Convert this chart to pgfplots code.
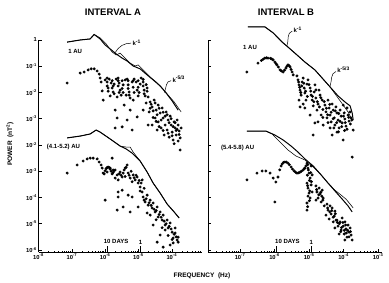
\documentclass[border=0pt]{standalone}
\usepackage{fontspec}
\setmainfont{Liberation Sans}
\usepackage{pgfplots}
\usepackage{pgfplotstable}
\pgfplotsset{compat=1.18}

% ---- Interval A, 1 AU: two spectra (lines) and points ----
\pgfplotstableread{
L M
-7.14 -0.08
-6.75 0
-6.45 0.04
-6.33 0.21
-6.15 0.04
-6.00 -0.19
-5.85 -0.34
-5.67 -0.53
-5.49 -0.69
-5.34 -0.80
-5.16 -0.99
-4.95 -1.10
-4.74 -1.33
-4.56 -1.52
-4.35 -1.75
-4.17 -2.02
-3.99 -2.32
-3.81 -2.67
}\lineAa
\pgfplotstableread{
L M
-7.14 -0.08
-6.75 0
-6.45 0.04
-6.33 0.21
-6.15 0.08
-5.97 -0.15
-5.79 -0.46
-5.67 -0.57
-5.55 -0.50
-5.43 -0.65
-5.25 -0.88
-5.10 -0.99
-5.01 -0.95
-4.86 -1.14
-4.65 -1.41
-4.47 -1.60
-4.29 -1.83
-4.11 -2.10
-3.93 -2.36
-3.72 -2.74
}\lineAb
\pgfplotstableread{
L M
-7.14 -1.64
-6.75 -1.26
-6.63 -1.22
-6.51 -1.14
-6.42 -1.10
-6.33 -1.10
-6.24 -1.18
-6.18 -1.30
-6.15 -1.45
-6.12 -1.60
-6.09 -1.94
-6.06 -2.29
-6.00 -1.52
-5.94 -1.45
-5.88 -1.49
-5.82 -1.64
-5.79 -1.83
-5.76 -1.98
-5.73 -1.68
-5.67 -1.49
-5.61 -1.45
-5.58 -1.64
-5.55 -1.91
-5.52 -2.10
-5.46 -1.71
-5.40 -1.52
-5.34 -1.49
-5.31 -1.71
-5.28 -1.98
-5.25 -2.21
-5.19 -1.60
-5.13 -1.49
-5.07 -1.60
-5.04 -1.91
-5.01 -2.13
-4.95 -1.68
-4.92 -1.45
-4.86 -1.60
-4.83 -1.91
-4.80 -2.13
-4.74 -1.83
-5.85 -2.13
-5.64 -2.17
-5.37 -2.10
-5.16 -2.29
-5.70 -2.67
-5.64 -2.97
-5.70 -3.35
-5.49 -3.31
-5.34 -3.05
-5.25 -2.67
-5.19 -3.43
-5.04 -2.93
-5.43 -2.48
-5.91 -1.83
-4.71 -2.17
-4.65 -2.36
-4.59 -2.55
-4.68 -2.74
-4.53 -2.29
-4.47 -2.67
-4.50 -2.97
-4.41 -2.48
-4.35 -2.78
-4.41 -3.12
-4.29 -2.59
-4.26 -2.97
-4.20 -3.24
-4.32 -3.35
-4.17 -2.74
-4.11 -3.05
-4.14 -3.43
-4.05 -2.90
-4.02 -3.24
-3.99 -3.51
-3.93 -3.12
-3.90 -3.35
-3.87 -3.62
-3.81 -3.24
-3.78 -3.47
-3.75 -3.73
-3.72 -3.35
-4.59 -3.24
-4.71 -3.24
-4.44 -3.43
-4.23 -3.62
-4.08 -3.70
-3.96 -3.81
-3.84 -3.05
-3.75 -4.19
-4.77 -2.40
-4.86 -2.67
-5.94 -1.60
-5.94 -1.75
-5.91 -1.95
-5.79 -1.55
-5.76 -1.75
-5.73 -2.05
-5.61 -1.55
-5.61 -1.75
-5.58 -2.00
-5.49 -1.55
-5.49 -1.85
-5.46 -2.00
-5.31 -1.55
-5.31 -1.85
-5.28 -2.10
-5.16 -1.55
-5.16 -1.80
-5.13 -2.00
-5.01 -1.55
-5.01 -1.80
-4.98 -2.00
-4.86 -1.50
-4.86 -1.75
-4.83 -2.05
-4.77 -1.70
-4.74 -1.95
-4.62 -2.45
-4.56 -2.70
-4.50 -2.40
-4.44 -2.85
-4.38 -2.60
-4.32 -3.05
-4.26 -2.75
-4.20 -2.90
-4.14 -2.85
-4.08 -3.15
-4.02 -3.00
-3.96 -3.30
-3.90 -3.15
-3.84 -3.40
-3.78 -3.60
-4.38 -3.30
-4.26 -3.45
-4.11 -3.55
-3.99 -3.65
-3.87 -3.45
-4.47 -3.10
-4.56 -2.95
-4.65 -2.60
-3.81 -3.85
-3.93 -3.95
}\ptsA
% ---- Interval A, 4.1-5.2 AU (plotted two decades lower) ----
\pgfplotstableread{
L M
-7.14 -3.73
-6.75 -3.66
-6.45 -3.58
-6.27 -3.43
-6.15 -3.51
-5.85 -3.77
-5.55 -4.04
-5.37 -4.15
-5.19 -4.31
-4.95 -4.61
-4.74 -5.03
-4.56 -5.45
-4.35 -5.83
-4.14 -6.25
-3.93 -6.55
-3.78 -6.78
}\lineCa
\pgfplotstableread{
L M
-7.14 -3.73
-6.75 -3.66
-6.45 -3.58
-6.27 -3.43
-6.15 -3.51
-5.85 -3.77
-5.55 -4.04
-5.37 -4.08
-5.25 -4.08
-5.16 -4.27
-4.95 -4.61
-4.74 -5.03
-4.56 -5.45
-4.35 -5.83
-4.14 -6.25
-3.93 -6.55
-3.78 -6.78
}\lineCb
\pgfplotstableread{
L M
-7.14 -5.07
-6.84 -4.76
-6.66 -4.61
-6.54 -4.53
-6.45 -4.50
-6.36 -4.50
-6.24 -4.53
-6.18 -4.65
-6.12 -4.76
-6.09 -4.88
-6.06 -5.07
-6.00 -6.10
-5.79 -4.50
-5.94 -5.03
-5.85 -4.88
-5.76 -4.95
-5.64 -5.14
-5.61 -5.33
-5.55 -5.03
-5.46 -5.07
-5.40 -4.88
-5.34 -4.76
-5.31 -5.07
-5.25 -5.26
-5.16 -5.14
-5.04 -5.22
-5.01 -5.45
-4.95 -5.60
-4.89 -5.33
-5.70 -5.26
-5.49 -5.22
-5.10 -5.33
-5.61 -5.79
-5.49 -5.72
-5.61 -5.98
-5.31 -5.91
-5.19 -5.98
-5.46 -6.36
-5.25 -6.55
-5.01 -6.36
-5.64 -6.48
-4.89 -5.79
-4.86 -5.98
-4.80 -6.17
-4.74 -5.91
-4.71 -6.29
-4.65 -6.10
-4.59 -6.40
-4.56 -6.21
-4.50 -6.55
-4.44 -6.36
-4.41 -6.74
-4.35 -6.55
-4.29 -6.86
-4.26 -6.67
-4.20 -7.05
-4.14 -6.86
-4.11 -7.16
-4.05 -6.97
-3.99 -7.32
-3.96 -7.54
-3.90 -7.35
-3.84 -7.62
-3.81 -7.51
-4.35 -7.43
-4.44 -7.70
-4.65 -6.67
-4.74 -6.59
-4.56 -7.05
-4.26 -7.89
-3.96 -7.73
-4.05 -7.81
-4.20 -7.24
-3.90 -7.16
-6.03 -5.10
-6.00 -4.98
-5.97 -4.90
-5.94 -4.86
-5.91 -4.84
-5.88 -4.86
-5.85 -4.92
-5.82 -5.00
-5.79 -5.10
-5.76 -5.05
-5.73 -4.98
-5.70 -4.95
-5.58 -5.10
-5.52 -5.15
-5.43 -4.95
-5.37 -4.85
-5.28 -5.15
-5.22 -5.00
-5.13 -5.25
-5.07 -5.15
-4.98 -5.35
-4.92 -5.45
-5.40 -5.20
-5.19 -5.40
-4.95 -5.75
-4.83 -5.65
-4.83 -6.10
-4.77 -6.05
-4.68 -6.20
-4.62 -6.30
-4.53 -6.45
-4.47 -6.50
-4.38 -6.65
-4.32 -6.75
-4.23 -6.90
-4.17 -7.00
-4.08 -7.10
-4.02 -7.20
-3.93 -7.40
-3.87 -7.50
-3.81 -7.70
-4.29 -7.15
-4.11 -7.45
-4.47 -6.85
-3.99 -7.60
}\ptsC
% ---- Interval B, 1 AU ----
\pgfplotstableread{
L M
-6.77 0.50
-6.28 0.50
-6.04 0.27
-5.78 -0.08
-5.61 -0.27
-5.35 -0.57
-5.12 -0.84
-4.83 -1.14
-4.62 -1.45
-4.39 -1.79
-4.16 -2.13
-3.96 -2.36
-3.81 -2.51
-3.75 -2.78
-3.72 -3.05
}\lineBa
\pgfplotstableread{
L M
-6.77 0.50
-6.28 0.50
-6.04 0.27
-5.78 -0.08
-5.61 -0.27
-5.35 -0.57
-5.12 -0.84
-4.83 -1.14
-4.62 -1.45
-4.39 -1.79
-4.16 -2.21
-4.01 -2.48
-3.87 -2.74
-3.75 -3.05
}\lineBb
\pgfplotstableread{
L M
-6.80 -1.22
-6.48 -0.88
-6.28 -0.69
-6.19 -0.69
-6.04 -0.76
-5.93 -0.95
-5.84 -1.14
-5.75 -1.22
-5.67 -1.07
-5.61 -0.95
-5.55 -1.03
-5.49 -1.22
-5.46 -1.33
-5.35 -1.37
-5.32 -1.52
-5.29 -1.71
-5.26 -1.91
-5.23 -2.10
-5.20 -1.60
-5.17 -1.45
-5.14 -1.83
-5.12 -2.02
-5.09 -2.29
-5.06 -1.68
-5.03 -1.52
-5.29 -2.29
-5.17 -2.44
-4.97 -1.83
-4.94 -2.10
-4.91 -2.29
-4.88 -2.51
-4.85 -1.98
-4.83 -1.71
-4.80 -2.21
-4.77 -2.67
-4.74 -2.44
-4.68 -2.10
-4.65 -2.86
-4.62 -2.29
-4.71 -1.91
-4.54 -2.48
-4.51 -2.74
-4.48 -2.97
-4.45 -2.29
-4.42 -2.59
-4.39 -2.86
-4.36 -3.12
-4.33 -2.44
-4.30 -2.67
-4.27 -2.97
-4.25 -3.24
-4.22 -2.55
-4.19 -2.78
-4.16 -3.05
-4.13 -3.35
-4.10 -2.67
-4.07 -2.90
-4.04 -3.16
-4.01 -2.48
-3.98 -2.78
-3.96 -3.01
-3.93 -3.28
-3.90 -2.59
-3.87 -2.86
-3.84 -3.09
-3.81 -2.74
-3.78 -2.97
-4.59 -3.24
-4.74 -3.12
-4.88 -3.62
-4.33 -3.62
-4.01 -3.81
-5.26 -2.55
-5.12 -2.59
-4.97 -2.86
-4.83 -3.16
-4.39 -3.35
-4.19 -3.51
-3.72 -3.43
-3.75 -4.46
-6.38 -0.78
-6.33 -0.73
-6.23 -0.68
-6.12 -0.70
-6.08 -0.72
-5.99 -0.84
-5.96 -0.90
-5.89 -1.03
-5.80 -1.18
-5.71 -1.15
-5.64 -1.00
-5.58 -0.98
-5.52 -1.12
-5.30 -1.60
-5.27 -1.80
-5.24 -2.00
-5.21 -1.75
-5.15 -1.65
-5.10 -1.95
-5.05 -2.15
-5.00 -1.70
-4.95 -1.95
-4.90 -2.15
-4.86 -2.35
-4.80 -1.90
-4.76 -2.35
-4.70 -2.55
-4.66 -2.20
-4.60 -2.65
-4.56 -2.35
-4.50 -2.60
-4.46 -2.85
-4.40 -2.45
-4.36 -2.75
-4.30 -3.00
-4.24 -2.70
-4.20 -3.15
-4.14 -2.80
-4.10 -3.10
-4.05 -3.30
-4.00 -2.90
-3.95 -3.15
-3.90 -3.40
-3.85 -2.95
-3.80 -3.20
-3.76 -3.05
-4.45 -3.15
-4.28 -3.35
-4.15 -3.50
-3.97 -3.45
-4.60 -2.95
}\ptsB
% ---- Interval B, 5.4-5.8 AU (plotted two decades lower) ----
\pgfplotstableread{
L M
-6.80 -3.47
-6.25 -3.47
-5.99 -3.62
-5.75 -3.81
-5.52 -4.04
-5.32 -4.27
-5.12 -4.53
-4.88 -4.80
-4.65 -5.14
-4.45 -5.45
-4.25 -5.75
-4.04 -6.06
-3.87 -6.32
-3.75 -6.55
}\lineDa
\pgfplotstableread{
L M
-6.80 -3.47
-6.25 -3.47
-6.07 -3.58
-5.84 -3.89
-5.61 -4.19
-5.38 -4.42
-5.12 -4.57
-4.88 -4.84
-4.65 -5.14
-4.45 -5.45
-4.25 -5.72
-4.07 -5.91
-3.93 -6.06
-3.81 -6.25
-3.72 -6.40
}\lineDb
\pgfplotstableread{
L M
-6.80 -5.33
-6.51 -5.07
-6.36 -4.99
-6.25 -4.99
-6.13 -5.07
-6.04 -5.26
-5.96 -5.41
-5.90 -5.22
-5.99 -6.17
-5.78 -4.72
-5.70 -4.65
-5.61 -4.69
-5.52 -4.84
-5.43 -4.99
-5.35 -5.07
-5.26 -5.03
-5.17 -4.95
-5.12 -4.88
-5.06 -4.69
-5.03 -4.88
-5.00 -5.07
-4.97 -5.26
-5.06 -5.45
-5.03 -5.64
-5.00 -5.83
-4.97 -6.02
-5.06 -6.21
-5.06 -6.48
-4.94 -4.80
-4.94 -5.52
-4.91 -5.14
-4.91 -5.79
-4.80 -5.56
-4.77 -5.79
-4.74 -6.02
-4.71 -5.64
-4.68 -5.87
-4.65 -6.17
-4.62 -5.72
-4.59 -6.02
-4.56 -6.32
-4.80 -6.10
-4.48 -6.25
-4.45 -6.48
-4.39 -6.32
-4.36 -6.63
-4.33 -6.40
-4.27 -6.71
-4.25 -6.52
-4.22 -6.86
-4.51 -6.67
-4.42 -6.82
-4.19 -6.86
-4.16 -7.09
-4.10 -6.93
-4.07 -7.24
-4.04 -6.78
-4.01 -7.09
-3.98 -7.39
-3.96 -6.93
-3.93 -7.20
-3.90 -7.51
-3.87 -7.05
-3.84 -7.32
-3.81 -7.16
-3.78 -7.43
-4.13 -7.39
-4.25 -7.16
-3.75 -7.62
-3.96 -7.62
-4.30 -6.93
-5.85 -4.95
-5.81 -4.80
-5.74 -4.66
-5.66 -4.65
-5.57 -4.75
-5.48 -4.92
-5.39 -5.04
-5.30 -5.06
-5.22 -5.00
-5.14 -4.90
-5.09 -4.80
-5.04 -4.75
-5.02 -4.95
-5.05 -5.15
-4.99 -5.35
-5.04 -5.55
-4.98 -5.75
-5.03 -5.95
-4.99 -6.12
-5.04 -6.35
-4.95 -5.05
-4.93 -5.40
-4.78 -5.70
-4.72 -5.90
-4.66 -5.80
-4.60 -6.10
-4.63 -5.95
-4.46 -6.40
-4.40 -6.55
-4.34 -6.50
-4.30 -6.75
-4.24 -6.62
-4.18 -6.95
-4.12 -7.00
-4.06 -7.15
-4.02 -6.95
-3.98 -7.25
-3.92 -7.35
-3.88 -7.25
-3.84 -7.50
-3.80 -7.30
-3.94 -7.05
-4.08 -7.30
}\ptsD

\pgfplotsset{
  panel/.style={
    scale only axis,
    height=212.1pt,
    ymin=-8.08, ymax=0,
    axis x line=bottom, axis y line=left,
    axis line style={-, line width=1pt},
    tick align=inside,
    major tick length=3pt, minor tick length=1.5pt,
    tick style={black, line width=0.6pt},
    minor tick style={line width=0.4pt},
    ytick={0,-1,-2,-3,-4,-5,-6,-7,-8},
    ticklabel style={font=\bfseries\fontsize{5.8}{6.5}\selectfont, inner sep=1.5pt},
    clip=false,
  },
  spec/.style={black, line width=1pt, no marks},
  spect/.style={black, line width=0.55pt, no marks},
  dots/.style={only marks, mark=*, mark size=1.25pt, black},
}
\tikzset{lab/.style={font=\bfseries\fontsize{6}{7}\selectfont, inner sep=0.5pt}}

\begin{document}
\begin{tikzpicture}
\useasboundingbox (0,0) rectangle (389pt,282pt);

\begin{axis}[panel,
  at={(38.5pt,29.9pt)}, anchor=south west,
  width=163.3pt, xmin=-8, xmax=-3.1,
  xtick={-8,-7,-6,-5,-4},
  xticklabels={{10\textsuperscript{-8}},{10\textsuperscript{-7}},{10\textsuperscript{-6}},{10\textsuperscript{-5}},{10\textsuperscript{-4}}},
  minor xtick={-7.699,-7.523,-7.398,-7.301,-7.222,-7.155,-7.097,-7.046,
               -6.699,-6.523,-6.398,-6.301,-6.222,-6.155,-6.097,-6.046,
               -5.699,-5.523,-5.398,-5.301,-5.222,-5.155,-5.097,-5.046,
               -4.699,-4.523,-4.398,-4.301,-4.222,-4.155,-4.097,-4.046,
               -3.699,-3.523,-3.398,-3.301,-3.222,-3.155},
  yticklabels={1,{10\textsuperscript{-1}},{10\textsuperscript{-2}},{10\textsuperscript{-3}},{10\textsuperscript{-2}},{10\textsuperscript{-3}},{10\textsuperscript{-4}},{10\textsuperscript{-5}},{10\textsuperscript{-6}}},
]
\addplot[spec] table[x=L,y=M] {\lineAa};
\addplot[spect] table[x=L,y=M] {\lineAb};
\addplot[dots] table[x=L,y=M] {\ptsA};
\addplot[spec] table[x=L,y=M] {\lineCa};
\addplot[spect] table[x=L,y=M] {\lineCb};
\addplot[dots] table[x=L,y=M] {\ptsC};
\node[lab] at (axis cs:-6.9,-0.42) {1 AU};
\node[lab] at (axis cs:-7.25,-4.08) {(4.1-5.2) AU};
\node[lab, anchor=west] at (axis cs:-5.2,-0.1) {k\textsuperscript{-1}};
\draw[line width=0.5pt] (axis cs:-5.22,-0.12) to[out=180,in=60] (axis cs:-5.70,-0.48);
\node[lab, anchor=west] at (axis cs:-4.0,-1.5) {k\textsuperscript{-5/3}};
\draw[line width=0.5pt] (axis cs:-4.02,-1.55) to[out=180,in=70] (axis cs:-4.22,-2.0);
\draw[line width=0.6pt] (axis cs:-5.937,-8.08) -- (axis cs:-5.937,-7.84);
\draw[line width=0.6pt] (axis cs:-4.937,-8.08) -- (axis cs:-4.937,-7.84);
\node[lab, anchor=south west] at (axis cs:-6.06,-7.8) {10 DAYS};
\node[lab, anchor=south] at (axis cs:-4.937,-7.8) {1};
\end{axis}

\begin{axis}[panel,
  at={(208.3pt,29.9pt)}, anchor=south west,
  width=173.2pt, xmin=-7.92, xmax=-2.9,
  xtick={-7,-6,-5,-4,-3},
  xticklabels={{10\textsuperscript{-7}},{10\textsuperscript{-6}},{10\textsuperscript{-5}},{10\textsuperscript{-4}},{10\textsuperscript{-3}}},
  minor xtick={-7.699,-7.523,-7.398,-7.301,-7.222,-7.155,-7.097,-7.046,
               -6.699,-6.523,-6.398,-6.301,-6.222,-6.155,-6.097,-6.046,
               -5.699,-5.523,-5.398,-5.301,-5.222,-5.155,-5.097,-5.046,
               -4.699,-4.523,-4.398,-4.301,-4.222,-4.155,-4.097,-4.046,
               -3.699,-3.523,-3.398,-3.301,-3.222,-3.155,-3.097,-3.046},
  yticklabels={},
]
\addplot[spec] table[x=L,y=M] {\lineBa};
\addplot[spect] table[x=L,y=M] {\lineBb};
\addplot[dots] table[x=L,y=M] {\ptsB};
\addplot[spec] table[x=L,y=M] {\lineDa};
\addplot[spect] table[x=L,y=M] {\lineDb};
\addplot[dots] table[x=L,y=M] {\ptsD};
\node[lab] at (axis cs:-6.71,-0.27) {1 AU};
\node[lab] at (axis cs:-7.07,-4.11) {(5.4-5.8) AU};
\node[lab, anchor=west] at (axis cs:-5.47,0.38) {k\textsuperscript{-1}};
\draw[line width=0.5pt] (axis cs:-5.49,0.34) to[out=200,in=70] (axis cs:-5.64,-0.22);
\node[lab, anchor=west] at (axis cs:-4.2,-1.14) {k\textsuperscript{-5/3}};
\draw[line width=0.5pt] (axis cs:-4.22,-1.2) to[out=200,in=70] (axis cs:-4.39,-1.75);
\draw[line width=0.6pt] (axis cs:-5.937,-8.08) -- (axis cs:-5.937,-7.84);
\draw[line width=0.6pt] (axis cs:-4.937,-8.08) -- (axis cs:-4.937,-7.84);
\node[lab, anchor=south west] at (axis cs:-6.0,-7.8) {10 DAYS};
\node[lab, anchor=south] at (axis cs:-4.937,-7.8) {1};
\end{axis}

\node[font=\bfseries\fontsize{9.5}{11}\selectfont] at (113pt,270pt) {INTERVAL A};
\node[font=\bfseries\fontsize{9.5}{11}\selectfont] at (286pt,270pt) {INTERVAL B};
\node[font=\bfseries\fontsize{6.5}{8}\selectfont] at (202pt,6pt) {FREQUENCY \ (Hz)};
\node[font=\bfseries\fontsize{6.5}{8}\selectfont, rotate=90] at (10pt,138pt) {POWER \ (nT\textsuperscript{2})};
\end{tikzpicture}
\end{document}
